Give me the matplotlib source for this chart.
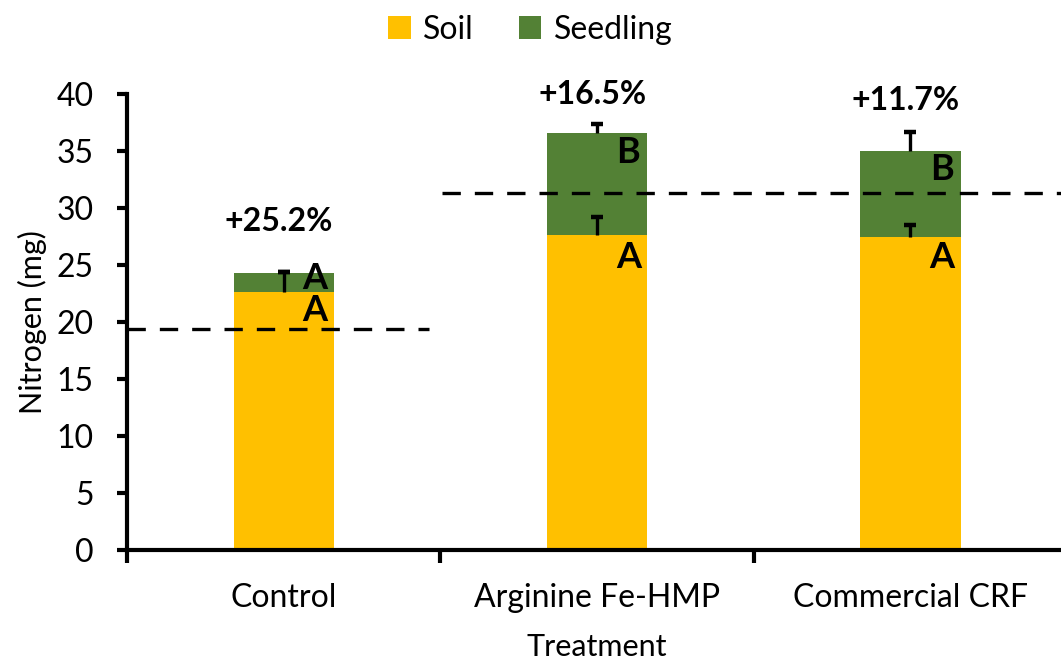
import matplotlib
matplotlib.use("Agg")
import numpy as np
from matplotlib import pyplot as plt
from matplotlib.ticker import FixedLocator

# data
treatments = ["Control", "Arginine Fe-HMP", "Commercial CRF"]
soil = [22.66, 27.6, 27.43]
seedling = [1.61, 8.95, 7.6]
soil_err = [1.7, 1.6, 1.1]
seedling_err = [0.1, 0.8, 1.65]
soil_letters = ["A", "A", "A"]
seedling_letters = ["A", "B", "B"]
pct_labels = ["+25.2%", "+16.5%", "+11.7%"]
pct_y = [28.8, 40.0, 39.4]
baselines = [19.38, 31.33]

plt.rcParams['font.family'] = ['Lato', 'DejaVu Sans']

fig = plt.figure(figsize=(10.61, 6.63), dpi=100)
ax = fig.add_axes([0.1197, 0.1704, 0.886, 0.6878])

x = np.arange(len(treatments))
w = 0.32
soil_c = '#FFC000'
seed_c = '#538135'

ax.bar(x, soil, w, color=soil_c, label='Soil', zorder=2)
ax.bar(x, seedling, w, bottom=soil, color=seed_c, label='Seedling', zorder=2)

tops = np.array(soil) + np.array(seedling)
# plus-only error bars: stem + cap at top
for base, err in [(np.array(soil), np.array(soil_err)), (tops, np.array(seedling_err))]:
    ax.vlines(x, base, base + err, colors='black', linewidth=2.4, zorder=4)
    ax.plot(x, base + err, linestyle='none', marker='_', markersize=8,
            markeredgewidth=3.2, color='black', zorder=4)

# dashed reference lines
ax.hlines(baselines[0], -0.5, 0.465, colors='black', linestyles=(0, (5.5, 4.2)),
          linewidth=2.4, zorder=3)
ax.hlines(baselines[1], 0.506, 2.5, colors='black', linestyles=(0, (5.5, 4.2)),
          linewidth=2.4, zorder=3)

# significance letters and percentages
seed_letter_y = [23.8, 34.9, 33.4]
soil_letter_y = [21.0, 25.7, 25.7]
for i in range(3):
    ax.text(x[i] + 0.1, seed_letter_y[i], seedling_letters[i], ha='center', va='center',
            fontsize=26, fontweight='bold', zorder=5)
    ax.text(x[i] + 0.1, soil_letter_y[i], soil_letters[i], ha='center', va='center',
            fontsize=26, fontweight='bold', zorder=5)
    ax.text(x[i] - 0.015, pct_y[i], pct_labels[i], ha='center', va='center',
            fontsize=23, fontweight='bold', zorder=5)

ax.set_xlim(-0.5, 2.5)
ax.set_ylim(0, 40)
ax.set_yticks(np.arange(0, 41, 5))
ax.set_xticks(x)
ax.set_xticklabels(treatments)
ax.xaxis.set_minor_locator(FixedLocator([-0.5, 0.5, 1.5, 2.5]))
ax.tick_params(axis='x', which='major', length=0, pad=24, labelsize=23)
ax.tick_params(axis='x', which='minor', length=9, width=3)
ax.tick_params(axis='y', which='major', length=7, width=3, labelsize=23, pad=17)

for s in ['top', 'right']:
    ax.spines[s].set_visible(False)
for s in ['left', 'bottom']:
    ax.spines[s].set_linewidth(3)

ax.set_ylabel("Nitrogen (mg)", fontsize=22, labelpad=7)
ax.set_xlabel("Treatment", fontsize=22, labelpad=14)

fig.legend(loc='center', bbox_to_anchor=(0.5, 0.955), ncol=2, frameon=False,
           fontsize=23, handlelength=0.7, handleheight=0.7, handletextpad=0.4,
           columnspacing=1.4)

fig.savefig('out.png', dpi=100)
